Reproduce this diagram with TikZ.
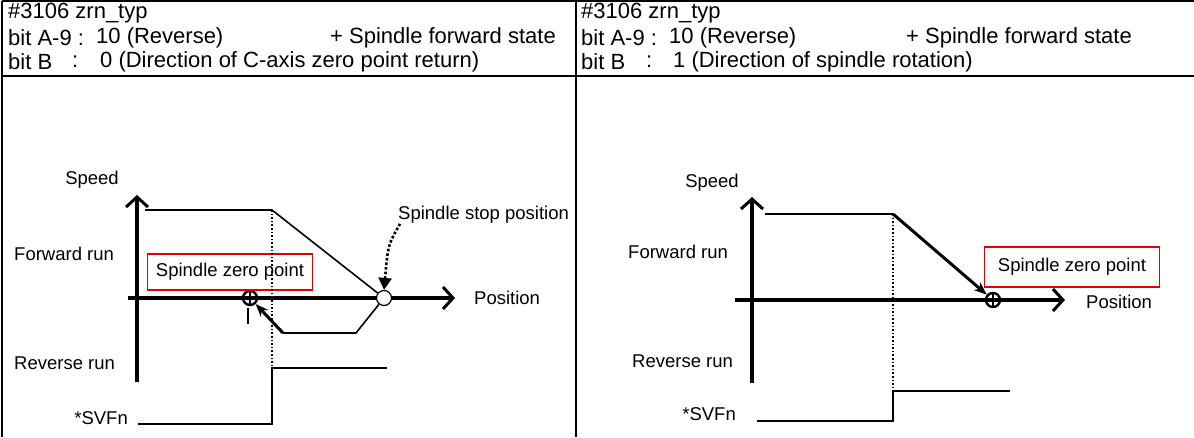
\documentclass[tikz,border=0pt]{standalone}
\usepackage{fontspec}
\setmainfont{Liberation Sans}
\usetikzlibrary{arrows.meta, positioning, calc}

\begin{document}
\begin{tikzpicture}[
  x=1pt, y=-1pt,
  every node/.style={font=\fontsize{18.5}{22}\selectfont, inner sep=0pt},
  hdr/.style={anchor=west, font=\fontsize{22}{25}\selectfont},
  lbl/.style={anchor=west},
  frame/.style={line width=2.5pt},
  axis/.style={line width=3.4pt, -{Straight Barb[length=10pt, width=22pt, line width=3pt]}},
  prof/.style={line width=1.6pt},
  guide/.style={line width=1.6pt, dotted},
  redbox/.style={draw=red!90!black, line width=1.2pt, minimum width=165pt, minimum height=36pt},
  zpt/.style={circle, draw, line width=2.4pt, minimum size=14pt},
  stoppt/.style={circle, draw, fill=white, line width=1.2pt, minimum size=15pt},
  moveto/.style={line width=3pt, -{Stealth[length=13pt, width=10pt]}},
  stoparrow/.style={line width=2.6pt, dotted, -{Triangle[length=12pt, width=13pt]}},
]
  \useasboundingbox (0,0) rectangle (1194,437);

  % Table frame
  \coordinate (tl) at (2,1);
  \coordinate (tr) at (1194,1);
  \coordinate (hl) at (2,76);
  \coordinate (hr) at (1194,76);
  \coordinate (bl) at (2,437);
  \coordinate (mt) at (576,1);
  \coordinate (mb) at (576,437);
  \draw[frame] (tl) -- (tr);
  \draw[frame] (hl) -- (hr);
  \draw[frame] (tl) -- (bl);
  \draw[frame] (mt) -- (mb);

  % Header left
  \node[hdr] (h1L) at (8,13) {\#3106 zrn\_typ};
  \node[hdr] (h2L) at (8,38) {bit A-9 :};
  \node[hdr] (h2vL) at (96,38) {10 (Reverse)};
  \node[hdr] (h2sL) at (330,38) {+ Spindle forward state};
  \node[hdr] (h3L) at (8,62) {bit B};
  \node[hdr] (h3cL) at (72,62) {:};
  \node[hdr] (h3vL) at (100,62) {0 (Direction of C-axis zero point return)};

  % Header right
  \node[hdr] (h1R) at (581,13) {\#3106 zrn\_typ};
  \node[hdr] (h2R) at (581,38) {bit A-9 :};
  \node[hdr] (h2vR) at (669,38) {10 (Reverse)};
  \node[hdr] (h2sR) at (906,38) {+ Spindle forward state};
  \node[hdr] (h3R) at (581,62) {bit B};
  \node[hdr] (h3cR) at (646,62) {:};
  \node[hdr] (h3vR) at (673,62) {1 (Direction of spindle rotation)};

  % Left graph: axes
  \coordinate (y0L) at (137,382);
  \coordinate (y1L) at (137,195);
  \coordinate (x0L) at (128,298);
  \coordinate (x1L) at (455,298);
  \draw[axis] (y0L) -- (y1L);
  \draw[axis] (x0L) -- (x1L);
  \node (spdL) at (92,180) {Speed};
  \node[lbl] (posL) at (474,298) {Position};
  \node[lbl] (fwdL) at (14,254) {Forward run};
  \node[lbl] (revL) at (14,363) {Reverse run};
  \node[anchor=east] (svfL) at (128,418) {*SVFn};

  % Left graph: profile
  \coordinate (pAL) at (145,210);
  \coordinate (pBL) at (272,210);
  \node[stoppt] (stopL) at (384,298) {};
  \node[zpt] (zeroL) at (250,298) {};
  \draw[line width=1.2pt] (zeroL.north) -- (zeroL.south) (zeroL.west) -- (zeroL.east);
  \draw[prof] (pAL) -- (pBL) -- (stopL);
  \coordinate (rvAL) at (356,333);
  \coordinate (rvBL) at (283,333);
  \draw[prof] (stopL) -- (rvAL) -- (rvBL);
  \draw[moveto] (rvBL) -- (zeroL);
  \coordinate (tkAL) at (248,308);
  \coordinate (tkBL) at (248,324);
  \draw[line width=1.2pt] (tkAL) -- (tkBL);
  \node[redbox] (zlblL) at (230,272) {Spindle zero point};

  % Left graph: stop position
  \node[lbl] (stoplblL) at (398,215) {Spindle stop position};
  \coordinate (stcL) at (388,245);
  \draw[stoparrow] ([xshift=2pt]stoplblL.south west) .. controls (stcL) .. (stopL.north);

  % Left graph: *SVFn
  \coordinate (sv0L) at (138,424);
  \coordinate (sv1L) at (272,424);
  \coordinate (sv2L) at (272,368);
  \coordinate (sv3L) at (387,368);
  \draw[guide] (pBL) -- (sv2L);
  \draw[prof] (sv0L) -- (sv1L) -- (sv2L) -- (sv3L);

  % Right graph: axes
  \coordinate (y0R) at (752,383);
  \coordinate (y1R) at (752,197);
  \coordinate (x0R) at (735,300);
  \coordinate (x1R) at (1065,300);
  \draw[axis] (y0R) -- (y1R);
  \draw[axis] (x0R) -- (x1R);
  \node (spdR) at (712,183) {Speed};
  \node[lbl] (posR) at (1086,302) {Position};
  \node[lbl] (fwdR) at (628,252) {Forward run};
  \node[lbl] (revR) at (632,361) {Reverse run};
  \node[anchor=east] (svfR) at (736,414) {*SVFn};

  % Right graph: profile
  \coordinate (pAR) at (765,214);
  \coordinate (pBR) at (893,214);
  \node[zpt] (zeroR) at (993,300) {};
  \draw[line width=1.2pt] (zeroR.north) -- (zeroR.south) (zeroR.west) -- (zeroR.east);
  \draw[prof] (pAR) -- (pBR);
  \draw[moveto] (pBR) -- (zeroR);
  \node[redbox, minimum width=175pt, minimum height=40pt] (zlblR) at (1072,267) {Spindle zero point};

  % Right graph: *SVFn
  \coordinate (sv0R) at (757,421);
  \coordinate (sv1R) at (893,421);
  \coordinate (sv2R) at (893,391);
  \coordinate (sv3R) at (1010,391);
  \draw[guide] (pBR) -- (sv2R);
  \draw[prof] (sv0R) -- (sv1R) -- (sv2R) -- (sv3R);
\end{tikzpicture}
\end{document}
